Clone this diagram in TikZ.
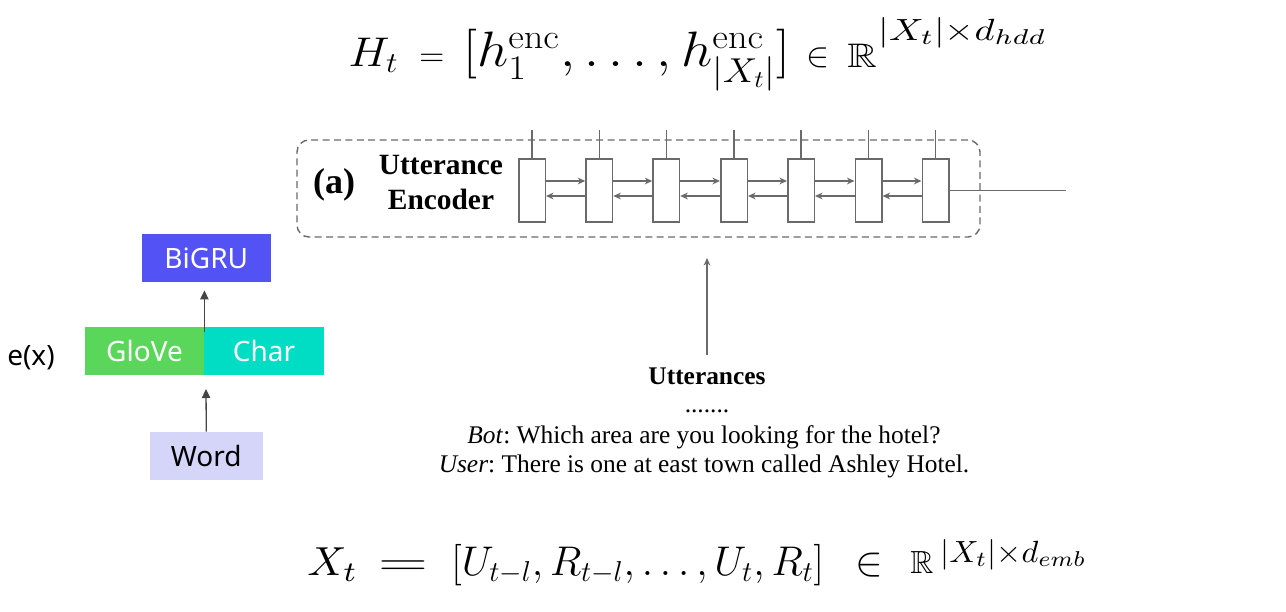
\documentclass[tikz,border=0pt]{standalone}
\usepackage{amsmath,amssymb}
\usepackage{graphicx}
\usepackage[no-math]{fontspec}
\setmainfont{Liberation Serif}
\newfontfamily\uisans{Noto Sans}
\usetikzlibrary{arrows.meta}
\definecolor{gline}{HTML}{6A6A6A}
\definecolor{darr}{HTML}{454545}
\definecolor{bigrucol}{HTML}{5252F5}
\definecolor{glovecol}{HTML}{5AD75A}
\definecolor{charcol}{HTML}{00DDC5}
\definecolor{wordcol}{HTML}{D5D5FA}
\frenchspacing
\tikzset{
  cell/.style={draw=gline, line width=0.75pt, fill=white, minimum width=13.25pt, minimum height=31.5pt, inner sep=0pt},
  garr/.style={draw=gline, line width=0.7pt, -{Stealth[length=3.8pt,width=3.4pt]}},
  gline/.style={draw=gline, line width=0.7pt},
  encbox/.style={draw=gline, line width=0.7pt, dash pattern=on 3.5pt off 2.2pt, rounded corners=6pt, minimum width=341.5pt, minimum height=48.5pt, inner sep=0pt},
  colbox/.style={minimum height=24pt, inner sep=0pt, font=\uisans\fontsize{14}{16}\selectfont},
  darrow/.style={draw=darr, line width=0.65pt, -{Triangle[length=4.5pt,width=4.2pt]}},
  tbody/.style={font=\fontsize{12.7}{15}\selectfont, inner sep=0pt},
  mpiece/.style={anchor=base west, inner sep=0pt}
}
\begin{document}
\begin{tikzpicture}[x=0.5pt,y=-0.5pt]
\useasboundingbox (0,0) rectangle (1286,611);
% top formula (pieces)
\node[mpiece, font=\fontsize{20.5}{24}\selectfont] (hA) at (348,66.7) {\scalebox{1.12}[1]{$H_t$}};
\node[mpiece, font=\fontsize{18.3}{22}\selectfont] (hB) at (419,66.7) {$=$};
\node[mpiece, font=\fontsize{24}{28}\selectfont] (hC) at (463,66.7)
  {\scalebox{1.11}[1]{$[h^{\mathrm{enc}}_1,\ldots,h^{\mathrm{enc}}_{|X_t|}]$}};
\node[mpiece, font=\fontsize{17}{20}\selectfont] (hD) at (806,66.7) {$\in$};
\node[mpiece, font=\fontsize{17}{20}\selectfont] (hE) at (847,67.5) {\scalebox{1.2}[1]{$\mathbb{R}$}};
\node[mpiece] (hF) at (878,40) {\resizebox{84pt}{11.5pt}{$|X_t|{\times}d_{hdd}$}};
% encoder box
\node[encbox] (enc) at (638.5,188.5) {};
\node[font=\bfseries\fontsize{18}{20}\selectfont, inner sep=0pt] (lbla) at (334,185) {(a)};
\node[font=\bfseries\fontsize{14.7}{17.5}\selectfont, align=center, inner sep=0pt] (lblenc) at (441,183) {Utterance\\Encoder};
% cells
\foreach \i/\xx in {1/532,2/599.3,3/666.3,4/734,5/801,6/868.5,7/935.5}{
  \node[cell] (c\i) at (\xx,190.5) {};
  \draw[gline] (c\i.north) -- ++(0,-28);
}
\foreach \i/\j in {1/2,2/3,3/4,4/5,5/6,6/7}{
  \draw[garr] ([yshift=4.75pt]c\i.east) -- ([yshift=4.75pt]c\j.west);
  \draw[garr] ([yshift=-2.75pt]c\j.west) -- ([yshift=-2.75pt]c\i.east);
}
\coordinate (outend) at (1066,190.5);
\draw[gline] (c7.east) -- (outend);
% utterances
\node[font=\bfseries\fontsize{12.7}{15}\selectfont, inner sep=0pt] (utt) at (707,376) {Utterances};
\coordinate (utip) at (707,258);
\draw[garr] ([yshift=6pt]utt.north) -- (utip);
\node[tbody] (dots) at (707,411) {.......};
\node[tbody] (bot) at (704,437) {\textit{Bot}: Which area are you looking for the hotel?};
\node[tbody] (usr) at (704,466) {\textit{User}: There is one at east town called Ashley Hotel.};
% left embedding
\node[colbox, fill=bigrucol, text=white, minimum width=64.35pt] (bigru) at (206.3,258) {BiGRU};
\node[colbox, fill=glovecol, text=white, minimum width=59.5pt] (glove) at (144.5,351) {GloVe};
\node[colbox, fill=charcol, text=white, minimum width=60pt] (char) at (264,351) {Char};
\node[colbox, fill=wordcol, text=black, minimum width=56.35pt] (word) at (206.3,456) {Word};
\node[font=\uisans\fontsize{14}{16}\selectfont, inner sep=0pt] (ex) at (31,358) {e(x)};
\coordinate (wtip) at (206,389);
\draw[darrow] (word.north) -- (wtip);
\draw[darrow] ([yshift=-2.5pt]glove.north east) -- ([yshift=-4pt]bigru.south -| glove.north east);
% bottom formula (pieces)
\node[mpiece] (xA) at (307,575) {\resizebox{25.5pt}{13.85pt}{$X_t$}};
\node[mpiece, font=\fontsize{20}{24}\selectfont] (xB) at (378,575) {\scalebox{1.65}[1]{$=$}};
\node[mpiece, font=\fontsize{20}{24}\selectfont] (xC) at (451,575) {$[U_{t-l},R_{t-l},\ldots,U_t,R_t]$};
\node[mpiece, font=\fontsize{20}{24}\selectfont] (xD) at (855,575) {$\in$};
\node[mpiece, font=\fontsize{16}{18}\selectfont] (xE) at (910,573.5) {$\mathbb{R}$};
\node[mpiece] (xF) at (940,562) {\resizebox{73pt}{11.5pt}{$|X_t|{\times}d_{emb}$}};
\end{tikzpicture}
\end{document}
